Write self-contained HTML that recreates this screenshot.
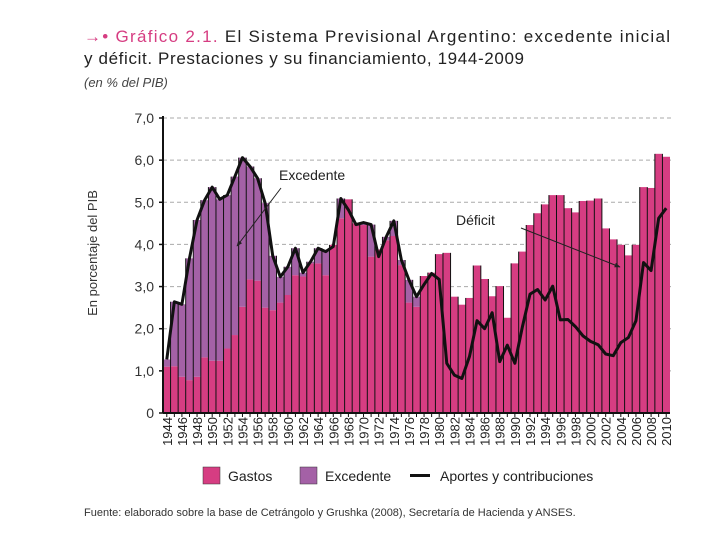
<!DOCTYPE html>
<html><head><meta charset="utf-8"><style>
body{margin:0;background:#fff;width:720px;height:540px;overflow:hidden;font-family:"Liberation Sans",sans-serif}
</style></head><body>
<svg width="720" height="540" style="position:absolute;left:0;top:0">
<defs><marker id="ah" viewBox="0 0 10 10" refX="9" refY="5" markerWidth="6" markerHeight="6" orient="auto"><path d="M0,1 L10,5 L0,9 z" fill="#222"/></marker></defs>
<text x="84" y="42" font-size="17" fill="#222" textLength="586" lengthAdjust="spacing"><tspan fill="#d63d82">→• Gráfico 2.1.</tspan> El Sistema Previsional Argentino: excedente inicial</text>
<text x="84" y="64" font-size="17" fill="#222" textLength="440" lengthAdjust="spacing">y déficit. Prestaciones y su financiamiento, 1944-2009</text>
<text x="84" y="87" font-size="13" font-style="italic" fill="#444">(en % del PIB)</text>
<text transform="translate(97,253) rotate(-90)" text-anchor="middle" font-size="13" fill="#333">En porcentaje del PIB</text>
<g id="grid"></g><g id="bars"></g><g id="line"></g><g id="axes"></g>
<text x="279" y="180" font-size="14" fill="#222">Excedente</text>
<line x1="281" y1="188" x2="237" y2="246" stroke="#222" stroke-width="1" marker-end="url(#ah)"/>
<text x="456" y="225" font-size="14" fill="#222">Déficit</text>
<line x1="521" y1="228" x2="620" y2="267" stroke="#222" stroke-width="1" marker-end="url(#ah)"/>
<g>
<rect x="203" y="467" width="17" height="17" fill="#d63d82" stroke="#333" stroke-width="0.5"/>
<text x="228" y="481" font-size="14" fill="#222">Gastos</text>
<rect x="300" y="467" width="17" height="17" fill="#a461a6" stroke="#333" stroke-width="0.5"/>
<text x="325" y="481" font-size="14" fill="#222">Excedente</text>
<rect x="410" y="474" width="20" height="3" fill="#111"/>
<text x="440" y="481" font-size="14" fill="#222">Aportes y contribuciones</text>
</g>
<text x="84" y="516" font-size="11" fill="#333">Fuente: elaborado sobre la base de Cetrángolo y Grushka (2008), Secretaría de Hacienda y ANSES.</text>
</svg>
<script>
const years=[];for(let y=1944;y<=2010;y++)years.push(y);
const gastos=[1.10,1.11,0.86,0.78,0.86,1.32,1.24,1.24,1.53,1.85,2.52,3.17,3.14,2.50,2.44,2.62,2.80,3.27,3.24,3.55,3.55,3.27,3.99,4.62,5.07,4.50,4.46,3.71,3.88,4.10,4.20,3.51,2.62,
2.52,3.25,3.33,3.77,3.80,2.76,2.57,2.73,3.50,3.18,2.77,3.01,2.26,3.55,3.83,4.46,4.74,4.95,5.17,5.17,4.86,4.76,5.03,5.04,5.09,4.38,4.12,3.99,3.74,3.99,5.36,5.34,6.15,6.08];
const excedente=[0.17,1.53,1.72,2.89,3.72,3.73,4.12,3.83,3.64,3.76,3.54,2.68,2.43,2.48,1.29,0.61,0.67,0.64,0.09,0.04,0.36,0.56,0,0.47,0,0,0.06,0.76,0,0.08,0.36,0.12,0.54,
0.24,0,0,0,0,0,0,0,0,0,0,0,0,0,0,0,0,0,0,0,0,0,0,0,0,0,0,0,0,0,0,0,0,0];
const aportes=[1.27,2.64,2.58,3.67,4.58,5.05,5.36,5.07,5.17,5.61,6.06,5.85,5.57,4.98,3.73,3.23,3.47,3.91,3.33,3.59,3.91,3.83,3.95,5.09,4.82,4.47,4.52,4.47,3.71,4.18,4.56,3.63,3.16,
2.76,3.05,3.31,3.17,1.18,0.90,0.82,1.34,2.19,2.00,2.38,1.22,1.61,1.18,2.05,2.82,2.93,2.68,3.01,2.21,2.22,2.05,1.83,1.70,1.62,1.40,1.36,1.67,1.79,2.19,3.57,3.38,4.62,4.86];
const yTicks=[0,1,2,3,4,5,6,7];
const yTickLabels=["0","1,0","2,0","3,0","4,0","5,0","6,0","7,0"];
const NS="http://www.w3.org/2000/svg";
const X0=163,X1=670,Y0=413,Y1=118,YMAX=7;
const bw=(X1-X0)/years.length;
const xs=i=>X0+bw*i;
const ys=v=>Y0-(v/YMAX)*(Y0-Y1);
function mk(tag,attrs,parent){const e=document.createElementNS(NS,tag);for(const k in attrs)e.setAttribute(k,attrs[k]);document.getElementById(parent).appendChild(e);return e;}
yTicks.forEach((t,i)=>{
 if(t>0){const g=mk('line',{x1:X0,x2:X1+3,y1:ys(t),y2:ys(t),stroke:'#aaa','stroke-dasharray':'4,3','stroke-width':1},'grid');
 
 }
 const tl=mk('text',{x:X0-9,y:ys(t)+5,'text-anchor':'end','font-size':14,fill:'#333'},'axes');tl.textContent=yTickLabels[i];
 
 
 const tk=mk('line',{x1:X0-4,x2:X0,y1:ys(t),y2:ys(t),stroke:'#111','stroke-width':1.5},'axes');
 
 
});
years.forEach((yr,i)=>{
 const g=mk('rect',{x:xs(i),y:ys(gastos[i]),width:bw,height:Y0-ys(gastos[i]),fill:'#d63d82'},'bars');
 
 
 if(excedente[i]>0){
  const e=mk('rect',{x:xs(i),y:ys(gastos[i]+excedente[i]),width:bw,height:ys(gastos[i])-ys(gastos[i]+excedente[i]),fill:'#a461a6'},'bars');
  
  
 }
 const top=Math.max(gastos[i]+excedente[i],0);
 const s=mk('line',{x1:xs(i),x2:xs(i),y1:Y0,y2:ys(Math.max(top,i>0?gastos[i-1]+excedente[i-1]:0)),stroke:'#111','stroke-width':1},'bars');
 
 
 const tk=mk('line',{x1:xs(i)+bw/2,x2:xs(i)+bw/2,y1:Y0,y2:Y0+4,stroke:'#111','stroke-width':1},'axes');
 
 
 if(i%2===0){
  const cx=xs(i)+bw/2+5;
  const t=mk('text',{x:0,y:0,transform:`translate(${cx},417) rotate(-90)`,'text-anchor':'end','font-size':13,fill:'#222'},'axes');
  t.textContent=yr;
  
  
 }
});
const pts=aportes.map((v,i)=>`${xs(i)+bw/2},${ys(v)}`).join(' ');
const pl=mk('polyline',{points:pts,fill:'none',stroke:'#111','stroke-width':3,'stroke-linejoin':'round'},'line');


const ax=mk('line',{x1:X0,x2:X0,y1:Y1-2,y2:Y0,stroke:'#111','stroke-width':2},'axes');


const bx=mk('line',{x1:X0,x2:X1,y1:Y0,y2:Y0,stroke:'#111','stroke-width':2},'axes');


</script>
</body></html>
